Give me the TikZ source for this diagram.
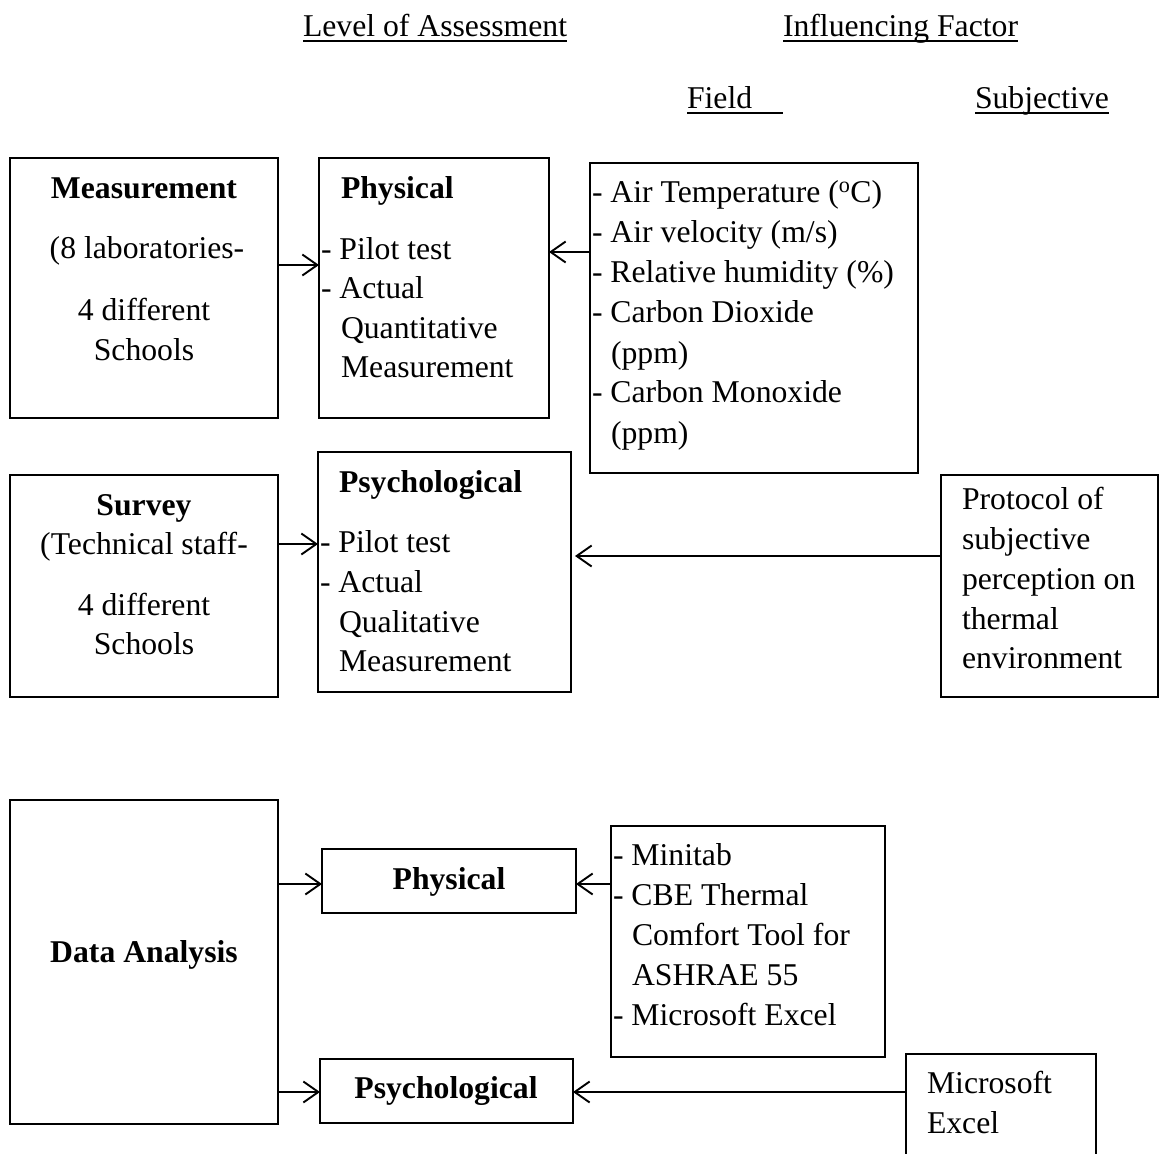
\documentclass[tikz,border=0pt]{standalone}
\usepackage{fontspec}
\setmainfont{Liberation Serif}
\usetikzlibrary{arrows.meta}
\begin{document}
\begin{tikzpicture}[x=1pt,y=-1pt,
  box/.style={draw, line width=1.9pt, inner sep=0pt, outer sep=0pt, anchor=north west},
  txt/.style={inner sep=0pt, outer sep=0pt, anchor=base west, font=\fontsize{31.7}{40}\selectfont},
  ctxt/.style={txt, anchor=base},
  btxt/.style={txt, font=\fontsize{31.7}{40}\selectfont\bfseries},
  bctxt/.style={ctxt, font=\fontsize{31.7}{40}\selectfont\bfseries},
  arr/.style={line width=1.9pt, -{Straight Barb[length=15pt,width=21pt]}},
  uline/.style={line width=1.8pt}]
\useasboundingbox (0,0) rectangle (1160,1154);

% headers
\node[txt] (lvl) at (303,36) {Level of Assessment};
\node[txt] (inf) at (783,36) {Influencing Factor};
\node[txt] (fld) at (687,108) {Field};
\node[txt] (subj) at (975,108) {Subjective};
\draw[uline] ([yshift=-5pt]lvl.base west) -- ([yshift=-5pt]lvl.base east);
\draw[uline] ([yshift=-5pt]inf.base west) -- ([yshift=-5pt]inf.base east);
\draw[uline] ([yshift=-5pt]fld.base west) -- ++(96,0);
\draw[uline] ([yshift=-5pt]subj.base west) -- ([yshift=-5pt]subj.base east);

% boxes
\node[box, minimum width=268pt, minimum height=260pt] (meas) at (10,158) {};
\node[box, minimum width=230pt, minimum height=260pt] (phys1) at (319,158) {};
\node[box, minimum width=328pt, minimum height=310pt] (field) at (590,163) {};
\node[box, minimum width=268pt, minimum height=222pt] (surv) at (10,475) {};
\node[box, minimum width=253pt, minimum height=240pt] (psy1) at (318,452) {};
\node[box, minimum width=217pt, minimum height=222pt] (prot) at (941,475) {};
\node[box, minimum width=268pt, minimum height=324pt] (da) at (10,800) {};
\node[box, minimum width=254pt, minimum height=64pt] (phys2) at (322,849) {};
\node[box, minimum width=274pt, minimum height=231pt] (tools) at (611,826) {};
\node[box, minimum width=253pt, minimum height=64pt] (psy2) at (320,1059) {};
\node[inner sep=0pt, outer sep=0pt, anchor=north west, minimum width=190pt, minimum height=102pt] (xl) at (906,1054) {};
\draw[line width=1.9pt] (xl.south west) -- (xl.north west) -- (xl.north east) -- (xl.south east);

% Measurement text
\node[bctxt] (m1) at (144,198) {Measurement};
\node[ctxt] (m2) at (147,258) {(8 laboratories-};
\node[ctxt] (m3) at (144,320) {4 different};
\node[ctxt] (m4) at (144,360) {Schools};

% Physical (top)
\node[btxt] (p1) at (341,198) {Physical};
\node[txt] (p2) at (321,259) {- Pilot test};
\node[txt] (p3) at (321,298) {- Actual};
\node[txt] (p4) at (341,338) {Quantitative};
\node[txt] (p5) at (341,377) {Measurement};

% Field factors
\node[txt] (f1) at (592,202) {- Air Temperature (\textsuperscript{o}C)};
\node[txt] (f2) at (592,242) {- Air velocity (m/s)};
\node[txt] (f3) at (592,282) {- Relative humidity (\%)};
\node[txt] (f4) at (592,322) {- Carbon Dioxide};
\node[txt] (f5) at (611,363) {(ppm)};
\node[txt] (f6) at (592,402) {- Carbon Monoxide};
\node[txt] (f7) at (611,443) {(ppm)};

% Survey
\node[bctxt] (s1) at (144,515) {Survey};
\node[ctxt] (s2) at (144,554) {(Technical staff-};
\node[ctxt] (s3) at (144,615) {4 different};
\node[ctxt] (s4) at (144,654) {Schools};

% Psychological (top)
\node[btxt] (q1) at (339,492) {Psychological};
\node[txt] (q2) at (320,552) {- Pilot test};
\node[txt] (q3) at (320,592) {- Actual};
\node[txt] (q4) at (339,632) {Qualitative};
\node[txt] (q5) at (339,671) {Measurement};

% Protocol
\node[txt] (r1) at (962,509) {Protocol of};
\node[txt] (r2) at (962,549) {subjective};
\node[txt] (r3) at (962,589) {perception on};
\node[txt] (r4) at (962,629) {thermal};
\node[txt] (r5) at (962,668) {environment};

% Data analysis
\node[bctxt] (d1) at (144,962) {Data Analysis};
\node[bctxt] (d2) at (449,889) {Physical};
\node[bctxt] (d3) at (446,1098) {Psychological};

% Tools
\node[txt] (t1) at (613,865) {- Minitab};
\node[txt] (t2) at (613,905) {- CBE Thermal};
\node[txt] (t3) at (632,945) {Comfort Tool for};
\node[txt] (t4) at (632,985) {ASHRAE 55};
\node[txt] (t5) at (613,1025) {- Microsoft Excel};

% Excel
\node[txt] (x1) at (927,1093) {Microsoft};
\node[txt] (x2) at (927,1133) {Excel};

% arrows
\draw[arr] (meas.east |- 0,265) -- (phys1.west |- 0,265);
\draw[arr] (field.west |- 0,252) -- (phys1.east |- 0,252);
\draw[arr] (surv.east |- 0,544) -- (psy1.west |- 0,544);
\draw[arr, shorten >=4pt] (prot.west |- 0,556) -- (psy1.east |- 0,556);
\draw[arr] (da.east |- 0,884) -- (phys2.west |- 0,884);
\draw[arr] (tools.west |- 0,884) -- (phys2.east |- 0,884);
\draw[arr] (da.east |- 0,1092) -- (psy2.west |- 0,1092);
\draw[arr] (xl.west |- 0,1092) -- (psy2.east |- 0,1092);
\end{tikzpicture}
\end{document}
